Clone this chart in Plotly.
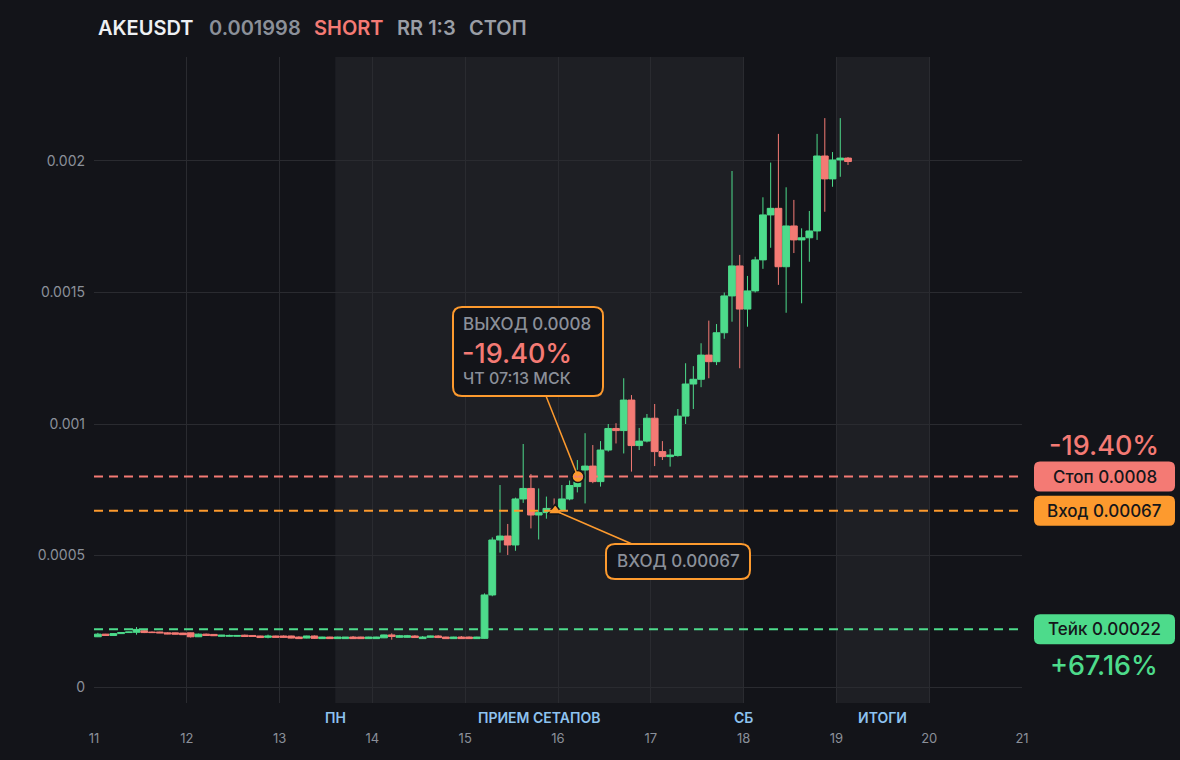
import plotly.graph_objects as go

# ---- data ----
symbol = "AKEUSDT"
last_price = "0.001998"
side = "SHORT"
rr_text = "RR 1:3"
status = "СТОП"

entry_price = 0.00067
stop_price = 0.0008
take_price = 0.00022
entry_time = 15.97
exit_time = 16.215
stop_pct = "-19.40%"
take_pct = "+67.16%"
exit_label = "ВЫХОД 0.0008"
exit_clock = "ЧТ 07:13 МСК"
entry_label = "ВХОД 0.00067"

day_ticks = [11, 12, 13, 14, 15, 16, 17, 18, 19, 20, 21]
y_ticks = [0, 0.0005, 0.001, 0.0015, 0.002]
y_tick_text = ["0", "0.0005", "0.001", "0.0015", "0.002"]

session_names = ["ПН", "ПРИЕМ СЕТАПОВ", "СБ", "ИТОГИ"]
session_x = [13.6, 15.8, 18.0, 19.5]
shaded_start = [13.6, 19.0]
shaded_end = [18.0, 20.0]

# 2h candles, first one centred at 11 + 1h
first_candle = 11 + 1 / 24
candle_step = 1 / 12

opens = [
    0.000191, 0.000201, 0.000196, 0.000203, 0.000207, 0.000208, 0.000214, 0.000209, 0.000209, 0.000206,
    0.000206, 0.000205, 0.000206, 0.000191, 0.000201, 0.000200, 0.000193, 0.000193, 0.000193, 0.000197,
    0.000196, 0.000194, 0.000189, 0.000194, 0.000194, 0.000194, 0.000190, 0.000186, 0.000194, 0.000184,
    0.000190, 0.000184, 0.000184, 0.000190, 0.000190, 0.000184, 0.000184, 0.000187, 0.000198, 0.000189,
    0.000189, 0.000194, 0.000184, 0.000189, 0.000194, 0.000190, 0.000184, 0.000190, 0.000190, 0.000184,
    0.000185, 0.000350, 0.000559, 0.000574, 0.000540, 0.000715, 0.000755, 0.000654, 0.000663, 0.000679,
    0.000672, 0.000715, 0.000762, 0.000825, 0.000840, 0.000781, 0.000901, 0.000983, 0.000975, 0.001091,
    0.000918, 0.000935, 0.001022, 0.000895, 0.000876, 0.000880, 0.001030, 0.001152, 0.001170, 0.001262,
    0.001237, 0.001347, 0.001487, 0.001601, 0.001437, 0.001506, 0.001624, 0.001795, 0.001820, 0.001598,
    0.001753, 0.001700, 0.001708, 0.001734, 0.002019, 0.001932, 0.002004, 0.002011,
]
highs = [
    0.000206, 0.000202, 0.000205, 0.000209, 0.000210, 0.000228, 0.000216, 0.000211, 0.000210, 0.000208,
    0.000207, 0.000206, 0.000207, 0.000203, 0.000203, 0.000201, 0.000198, 0.000199, 0.000197, 0.000199,
    0.000197, 0.000195, 0.000199, 0.000195, 0.000196, 0.000195, 0.000193, 0.000195, 0.000196, 0.000191,
    0.000191, 0.000191, 0.000190, 0.000194, 0.000191, 0.000191, 0.000191, 0.000199, 0.000204, 0.000198,
    0.000198, 0.000197, 0.000194, 0.000195, 0.000197, 0.000191, 0.000191, 0.000194, 0.000192, 0.000191,
    0.000356, 0.000569, 0.000768, 0.000620, 0.000720, 0.000924, 0.000810, 0.000755, 0.000724, 0.000717,
    0.000768, 0.000785, 0.000863, 0.000965, 0.000920, 0.000935, 0.001000, 0.001003, 0.001174, 0.001110,
    0.000985, 0.001038, 0.001076, 0.000935, 0.000905, 0.001057, 0.001231, 0.001220, 0.001307, 0.001393,
    0.001380, 0.001500, 0.001962, 0.001643, 0.001563, 0.001636, 0.001862, 0.001994, 0.002103, 0.001900,
    0.001852, 0.001744, 0.001810, 0.002103, 0.002163, 0.002034, 0.002163, 0.002015,
]
lows = [
    0.000190, 0.000195, 0.000195, 0.000202, 0.000206, 0.000199, 0.000205, 0.000206, 0.000205, 0.000201,
    0.000200, 0.000198, 0.000188, 0.000190, 0.000195, 0.000194, 0.000192, 0.000192, 0.000192, 0.000191,
    0.000191, 0.000187, 0.000185, 0.000188, 0.000188, 0.000185, 0.000183, 0.000185, 0.000183, 0.000183,
    0.000183, 0.000183, 0.000183, 0.000183, 0.000183, 0.000183, 0.000183, 0.000186, 0.000180, 0.000188,
    0.000188, 0.000187, 0.000183, 0.000188, 0.000186, 0.000183, 0.000183, 0.000183, 0.000183, 0.000183,
    0.000183, 0.000345, 0.000511, 0.000502, 0.000518, 0.000700, 0.000603, 0.000561, 0.000640, 0.000660,
    0.000665, 0.000710, 0.000740, 0.000698, 0.000775, 0.000762, 0.000895, 0.000926, 0.000888, 0.000819,
    0.000901, 0.000930, 0.000840, 0.000863, 0.000838, 0.000876, 0.001000, 0.001057, 0.001140, 0.001174,
    0.001224, 0.001324, 0.001389, 0.001212, 0.001370, 0.001500, 0.001590, 0.001670, 0.001529, 0.001423,
    0.001650, 0.001459, 0.001617, 0.001700, 0.001807, 0.001902, 0.001940, 0.001985,
]
closes = [
    0.000201, 0.000196, 0.000203, 0.000207, 0.000209, 0.000219, 0.000207, 0.000207, 0.000206, 0.000202,
    0.000201, 0.000199, 0.000191, 0.000201, 0.000196, 0.000195, 0.000197, 0.000196, 0.000196, 0.000192,
    0.000192, 0.000188, 0.000194, 0.000189, 0.000189, 0.000186, 0.000184, 0.000194, 0.000185, 0.000190,
    0.000184, 0.000190, 0.000190, 0.000184, 0.000184, 0.000190, 0.000190, 0.000198, 0.000192, 0.000195,
    0.000195, 0.000188, 0.000190, 0.000194, 0.000188, 0.000184, 0.000190, 0.000184, 0.000184, 0.000190,
    0.000350, 0.000559, 0.000574, 0.000540, 0.000715, 0.000755, 0.000654, 0.000663, 0.000679, 0.000672,
    0.000715, 0.000766, 0.000781, 0.000840, 0.000781, 0.000901, 0.000983, 0.000975, 0.001091, 0.000918,
    0.000935, 0.001022, 0.000895, 0.000876, 0.000882, 0.001030, 0.001152, 0.001170, 0.001262, 0.001237,
    0.001347, 0.001487, 0.001601, 0.001437, 0.001506, 0.001624, 0.001795, 0.001820, 0.001598, 0.001753,
    0.001700, 0.001708, 0.001734, 0.002019, 0.001932, 0.002004, 0.002011, 0.001998,
]
times = [first_candle + i * candle_step for i in range(len(opens))]

# ---- colours / geometry ----
bg = "#131419"
shade = "#1e1f24"
grid = "#2a2b30"
green = "#4ddb8b"
red = "#f47a74"
orange = "#fd9a2e"
gray = "#8b9099"
blue = "#8ec3f0"
FONT = "Inter"

W, H = 1180, 760
L, R, T, B = 94, 1022, 57, 703
x_range = [11, 21]
y_range = [-0.0000608, 0.0023954]


def px_x(px):
    return (px - L) / (R - L)


def px_y(py):
    return (B - py) / (B - T)


def x_to_px(x):
    return L + (x - x_range[0]) / (x_range[1] - x_range[0]) * (R - L)


def price_to_py(v):
    return B - (v - y_range[0]) / (y_range[1] - y_range[0]) * (B - T)


def rounded_box(x0, y0, x1, y1, r):
    a, b = px_x, px_y
    return (f"M{a(x0 + r)},{b(y0)} L{a(x1 - r)},{b(y0)} Q{a(x1)},{b(y0)} {a(x1)},{b(y0 + r)} "
            f"L{a(x1)},{b(y1 - r)} Q{a(x1)},{b(y1)} {a(x1 - r)},{b(y1)} "
            f"L{a(x0 + r)},{b(y1)} Q{a(x0)},{b(y1)} {a(x0)},{b(y1 - r)} "
            f"L{a(x0)},{b(y0 + r)} Q{a(x0)},{b(y0)} {a(x0 + r)},{b(y0)} Z")


fig = go.Figure()

fig.add_trace(go.Candlestick(
    x=times, open=opens, high=highs, low=lows, close=closes,
    increasing=dict(line=dict(color=green, width=1), fillcolor=green),
    decreasing=dict(line=dict(color=red, width=1), fillcolor=red),
    whiskerwidth=0, hoverinfo="skip", showlegend=False,
))

# entry / exit markers
fig.add_trace(go.Scatter(
    x=[entry_time], y=[entry_price], mode="markers",
    marker=dict(symbol="triangle-up", size=13, color=orange, line=dict(color=bg, width=1.5)),
    hoverinfo="skip", showlegend=False,
))
fig.add_trace(go.Scatter(
    x=[exit_time], y=[stop_price], mode="markers",
    marker=dict(symbol="circle", size=12, color=orange, line=dict(color=bg, width=1.5)),
    hoverinfo="skip", showlegend=False,
))

shapes = []
for s0, s1 in zip(shaded_start, shaded_end):
    shapes.append(dict(type="rect", xref="x", yref="paper", x0=s0, x1=s1, y0=0, y1=1,
                       fillcolor=shade, line=dict(width=0), layer="below"))

for price, col in [(stop_price, red), (entry_price, orange), (take_price, green)]:
    shapes.append(dict(type="line", xref="paper", yref="y", x0=0, x1=1, y0=price, y1=price,
                       line=dict(color=col, width=2, dash="9px,6px"), layer="above"))

# connectors from callouts to the markers
ex_px, ex_py = x_to_px(exit_time), price_to_py(stop_price)
en_px, en_py = x_to_px(entry_time), price_to_py(entry_price)
shapes.append(dict(type="line", xref="paper", yref="paper",
                   x0=px_x(546), y0=px_y(396), x1=px_x(ex_px), y1=px_y(ex_py),
                   line=dict(color=orange, width=1.5)))
shapes.append(dict(type="line", xref="paper", yref="paper",
                   x0=px_x(en_px), y0=px_y(en_py), x1=px_x(632), y1=px_y(544),
                   line=dict(color=orange, width=1.5)))

# callout boxes
shapes.append(dict(type="path", xref="paper", yref="paper", path=rounded_box(453, 307, 603, 396, 9),
                   fillcolor=bg, line=dict(color=orange, width=2)))
shapes.append(dict(type="path", xref="paper", yref="paper", path=rounded_box(606, 544, 750, 579, 9),
                   fillcolor=bg, line=dict(color=orange, width=2)))

# right side price tags
tag_x0, tag_x1 = 1034, 1175
tag_h = 30
tags = [(stop_price, red, "Стоп 0.0008"), (entry_price, orange, "Вход 0.00067"), (take_price, green, "Тейк 0.00022")]
annotations = []
for price, col, txt in tags:
    cy = price_to_py(price)
    shapes.append(dict(type="path", xref="paper", yref="paper",
                       path=rounded_box(tag_x0, cy - tag_h / 2, tag_x1, cy + tag_h / 2, 6),
                       fillcolor=col, line=dict(width=0)))
    annotations.append(dict(xref="paper", yref="paper", x=px_x((tag_x0 + tag_x1) / 2), y=px_y(cy),
                            text=txt, showarrow=False, xanchor="center", yanchor="middle",
                            font=dict(family=FONT, size=17, color="#15161a", weight=500)))

annotations.append(dict(xref="paper", yref="paper", x=px_x(1104), y=px_y(price_to_py(stop_price) - 31),
                        text=stop_pct, showarrow=False, xanchor="center", yanchor="middle",
                        font=dict(family=FONT, size=27, color=red, weight=500)))
annotations.append(dict(xref="paper", yref="paper", x=px_x(1104), y=px_y(price_to_py(take_price) + 36),
                        text=take_pct, showarrow=False, xanchor="center", yanchor="middle",
                        font=dict(family=FONT, size=27, color=green, weight=500)))

# callout texts
annotations.append(dict(xref="paper", yref="paper", x=px_x(461), y=px_y(324), text=exit_label,
                        showarrow=False, xanchor="left", yanchor="middle",
                        font=dict(family=FONT, size=17, color=gray, weight=500)))
annotations.append(dict(xref="paper", yref="paper", x=px_x(460), y=px_y(353), text=stop_pct,
                        showarrow=False, xanchor="left", yanchor="middle",
                        font=dict(family=FONT, size=27, color=red, weight=500)))
annotations.append(dict(xref="paper", yref="paper", x=px_x(461), y=px_y(378), text=exit_clock,
                        showarrow=False, xanchor="left", yanchor="middle",
                        font=dict(family=FONT, size=16, color=gray, weight=500)))
annotations.append(dict(xref="paper", yref="paper", x=px_x(678), y=px_y(561), text=entry_label,
                        showarrow=False, xanchor="center", yanchor="middle",
                        font=dict(family=FONT, size=17, color=gray, weight=500)))

# session labels under the axis
for name, sx in zip(session_names, session_x):
    annotations.append(dict(xref="x", yref="paper", x=sx, y=px_y(717), text=name,
                            showarrow=False, xanchor="center", yanchor="middle",
                            font=dict(family=FONT, size=14, color=blue, weight=600)))

# header
header = [(96, symbol, "#eef0f3"), (207, last_price, gray), (312, side, red),
          (395, rr_text, "#9a9ea6"), (467, status, "#9a9ea6")]
for hx, txt, col in header:
    annotations.append(dict(xref="paper", yref="paper", x=px_x(hx), y=px_y(28), text=txt,
                            showarrow=False, xanchor="left", yanchor="middle",
                            font=dict(family=FONT, size=20, color=col, weight=600)))

fig.update_layout(
    width=W, height=H,
    margin=dict(l=L, r=W - R, t=T, b=H - B),
    paper_bgcolor=bg, plot_bgcolor=bg,
    font=dict(family=FONT, color=gray),
    boxgap=0.12, boxgroupgap=0,
    showlegend=False,
    hovermode=False,
    shapes=shapes,
    annotations=annotations,
)
fig.update_xaxes(
    range=x_range, tickvals=day_ticks, ticktext=[str(d) for d in day_ticks],
    showgrid=True, gridcolor=grid, gridwidth=1, zeroline=False, showline=False,
    tickfont=dict(family=FONT, size=13, color=gray), ticklabelstandoff=26,
    rangeslider=dict(visible=False), fixedrange=True,
)
fig.update_yaxes(
    range=y_range, tickvals=y_ticks, ticktext=y_tick_text,
    showgrid=True, gridcolor=grid, gridwidth=1, zeroline=False, showline=False,
    tickfont=dict(family=FONT, size=14, color=gray), ticklabelstandoff=8, fixedrange=True,
)

fig.write_html("out.html", config={"displayModeBar": False},
               post_script="document.body.style.margin='0';document.body.style.background='%s';" % bg)
